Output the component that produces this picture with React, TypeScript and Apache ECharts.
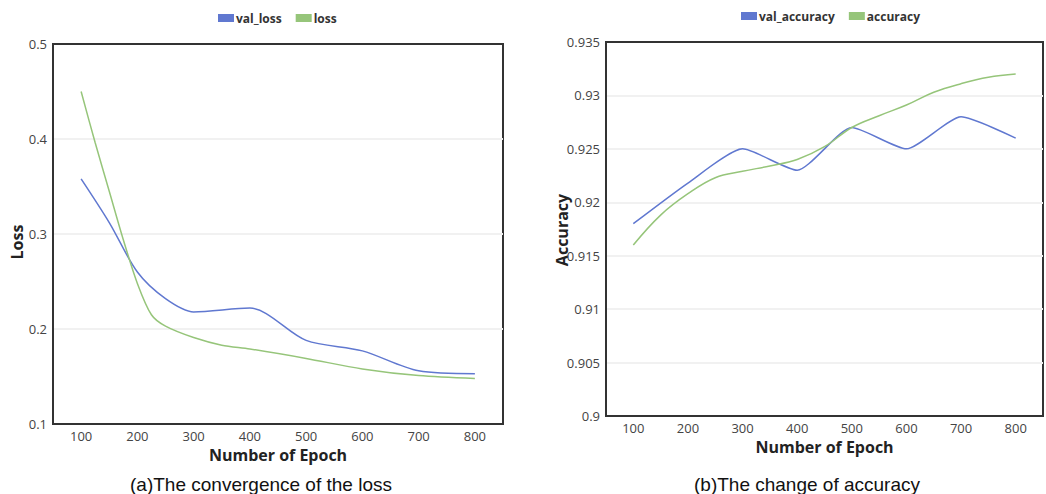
import React, { useEffect, useRef } from "react";
import * as echarts from "echarts";

const valLossEpochs = [100, 150, 200, 250, 300, 400, 500, 600, 700, 800];
const valLoss = [0.358, 0.312, 0.26, 0.232, 0.218, 0.222, 0.188, 0.177, 0.156, 0.153];
const lossEpochs = [100, 125, 150, 175, 200, 225, 250, 300, 350, 400, 500, 600, 700, 800];
const loss = [0.45, 0.396, 0.345, 0.294, 0.248, 0.215, 0.203, 0.191, 0.183, 0.179, 0.169, 0.158, 0.151, 0.148];

const valAccEpochs = [100, 200, 300, 400, 500, 600, 700, 800];
const valAcc = [0.918, 0.9218, 0.925, 0.923, 0.927, 0.925, 0.928, 0.926];
const accEpochs = [100, 150, 200, 250, 300, 350, 400, 450, 500, 550, 600, 650, 700, 750, 800];
const acc = [0.916, 0.9188, 0.9208, 0.9223, 0.9229, 0.9234, 0.924, 0.9252, 0.927, 0.9281, 0.9291, 0.9303, 0.9311, 0.9317, 0.932];

const lossTicks = [0.1, 0.2, 0.3, 0.4, 0.5];
const accTicks = [0.9, 0.905, 0.91, 0.915, 0.92, 0.925, 0.93, 0.935];

const BLUE = "#6078d0";
const GREEN = "#96c57a";
const FONT = "'Open Sans', sans-serif";
const CAPTION_FONT = "'Liberation Sans', Arial, sans-serif";

const zip = (xs: number[], ys: number[]) => xs.map((x, i) => [x, ys[i]]);

export default function App() {
  const ref = useRef<HTMLDivElement>(null);
  useEffect(() => {
    if (!ref.current) return;
    const chart = echarts.init(ref.current, undefined, { renderer: "svg" });
    const xAxisBase = (gridIndex: number) => ({
      type: "value",
      gridIndex,
      min: 50,
      max: 850,
      interval: 50,
      axisLine: { show: true, lineStyle: { color: "#333", width: 2 } },
      axisTick: { show: false },
      splitLine: { show: false },
      axisLabel: {
        margin: 5,
        color: "#444",
        fontSize: 13,
        fontFamily: FONT,
        formatter: (v: number) => (v % 100 === 0 && v >= 100 && v <= 800 ? String(v) : ""),
      },
      name: "Number of Epoch",
      nameLocation: "middle",
      nameGap: 23,
      nameTextStyle: { fontWeight: "bold", fontSize: 16, color: "#222", fontFamily: FONT },
    });
    const yAxisBase = (gridIndex: number, ticks: number[], decimals: number) => ({
      type: "value",
      gridIndex,
      min: ticks[0],
      max: ticks[ticks.length - 1],
      interval: ticks[1] - ticks[0],
      axisLine: { show: true, lineStyle: { color: "#333", width: 2 } },
      axisTick: { show: false },
      splitLine: { show: true, showMinLine: false, showMaxLine: false, lineStyle: { color: "#f1f1f1", width: 2 } },
      axisLabel: {
        margin: 6,
        color: "#444",
        fontSize: 13,
        fontFamily: FONT,
        formatter: (v: number) => String(parseFloat(v.toFixed(decimals))),
      },
    });
    const legendBase = {
      icon: "rect",
      itemWidth: 16,
      itemHeight: 8,
      itemGap: 14,
      padding: 0,
      textStyle: { fontWeight: "bold", fontSize: 12, color: "#333", fontFamily: FONT, padding: [0, 0, 0, -3] },
    };
    chart.setOption({
      animation: false,
      backgroundColor: "#fff",
      grid: [
        { left: 53, top: 44, width: 450, height: 380, show: true, borderColor: "#333", borderWidth: 2, backgroundColor: "transparent" },
        { left: 606, top: 42, width: 446, height: 374, show: true, borderColor: "#333", borderWidth: 2, backgroundColor: "transparent" },
      ],
      legend: [
        { ...legendBase, data: ["val_loss", "loss"], left: 218, top: 12 },
        { ...legendBase, data: ["val_accuracy", "accuracy"], left: 741, top: 10 },
      ],
      xAxis: [xAxisBase(0), xAxisBase(1)],
      yAxis: [yAxisBase(0, lossTicks, 1), yAxisBase(1, accTicks, 3)],
      series: [
        { name: "val_loss", type: "line", xAxisIndex: 0, yAxisIndex: 0, data: zip(valLossEpochs, valLoss), smooth: 0.3, showSymbol: false, symbol: "none", lineStyle: { color: BLUE, width: 1.5 }, itemStyle: { color: BLUE } },
        { name: "loss", type: "line", xAxisIndex: 0, yAxisIndex: 0, data: zip(lossEpochs, loss), smooth: 0.3, showSymbol: false, symbol: "none", lineStyle: { color: GREEN, width: 1.5 }, itemStyle: { color: GREEN } },
        { name: "val_accuracy", type: "line", xAxisIndex: 1, yAxisIndex: 1, data: zip(valAccEpochs, valAcc), smooth: 0.2, showSymbol: false, symbol: "none", lineStyle: { color: BLUE, width: 1.5 }, itemStyle: { color: BLUE } },
        { name: "accuracy", type: "line", xAxisIndex: 1, yAxisIndex: 1, data: zip(accEpochs, acc), smooth: 0.4, showSymbol: false, symbol: "none", lineStyle: { color: GREEN, width: 1.5 }, itemStyle: { color: GREEN } },
      ],
      graphic: [
        { type: "text", x: 17, y: 242, rotation: Math.PI / 2, style: { text: "Loss", align: "center", verticalAlign: "middle", fontWeight: "bold", fontSize: 16, fontFamily: FONT, fill: "#222" } },
        { type: "text", x: 562, y: 230, rotation: Math.PI / 2, style: { text: "Accuracy", align: "center", verticalAlign: "middle", fontWeight: "bold", fontSize: 16, fontFamily: FONT, fill: "#222" } },
        { type: "text", x: 261, y: 484, style: { text: "(a)The convergence of the loss", align: "center", verticalAlign: "middle", fontSize: 19, fontFamily: CAPTION_FONT, fill: "#111" } },
        { type: "text", x: 807, y: 484, style: { text: "(b)The change of accuracy", align: "center", verticalAlign: "middle", fontSize: 19, fontFamily: CAPTION_FONT, fill: "#111" } },
      ],
    });
    return () => chart.dispose();
  }, []);
  return <div ref={ref} style={{ position: "absolute", left: 0, top: 0, width: 1046, height: 494 }} />;
}
